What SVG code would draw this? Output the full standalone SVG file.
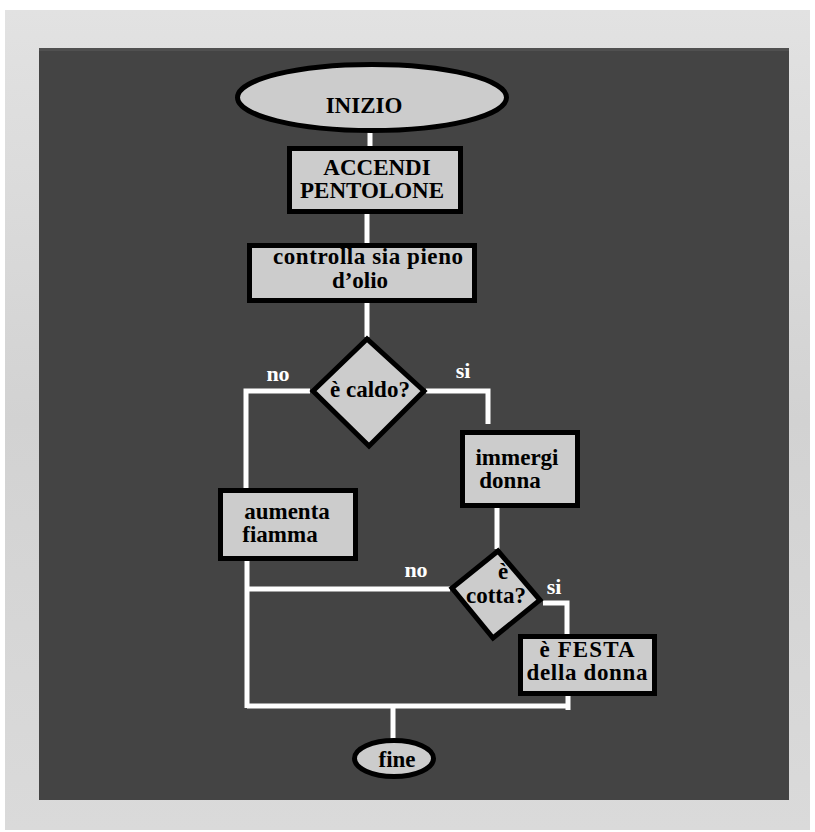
<svg xmlns="http://www.w3.org/2000/svg" width="815" height="832" viewBox="0 0 815 832">
<defs>
<linearGradient id="frame" x1="0" y1="0" x2="0" y2="1">
<stop offset="0" stop-color="#e2e2e2"/>
<stop offset="0.5" stop-color="#d2d2d2"/>
<stop offset="1" stop-color="#dadada"/>
</linearGradient>
</defs>
<style>
.node{fill:#cccccc;stroke:#000;stroke-width:5}
.t{font-family:"Liberation Serif","Times New Roman",serif;font-weight:bold;font-size:23px;fill:#000;text-anchor:middle}
.lbl{font-family:"Liberation Serif","Times New Roman",serif;font-weight:bold;font-size:22px;fill:#fff;text-anchor:middle}
.c{fill:none;stroke:#fff;stroke-width:5}
</style>
<rect width="815" height="832" fill="#fff"/>
<rect x="5" y="10" width="805" height="820" fill="url(#frame)"/>
<rect x="39" y="48" width="750" height="752" fill="#444444"/>
<rect x="39" y="48" width="750" height="3" fill="#505050"/>
<g id="connectors">
<line class="c" x1="370" y1="132" x2="370" y2="148"/>
<line class="c" x1="367" y1="214" x2="367" y2="244"/>
<line class="c" x1="367" y1="302" x2="367" y2="337"/>
<polyline class="c" points="310,391 246,391 246,489"/>
<polyline class="c" points="426,391 488,391 488,424"/>
<line class="c" x1="497" y1="507" x2="497" y2="549"/>
<line class="c" x1="247" y1="560" x2="247" y2="708"/>
<line class="c" x1="450" y1="589" x2="247" y2="589"/>
<polyline class="c" points="543,603 567,603 567,636"/>
<line class="c" x1="568" y1="695" x2="568" y2="710"/>
<line class="c" x1="247" y1="706" x2="570" y2="706"/>
<line class="c" x1="393" y1="706" x2="393" y2="740"/>
</g>
<g id="inizio">
<ellipse class="node" cx="372" cy="97.5" rx="134.5" ry="33"/>
<text class="t" x="364" y="113">INIZIO</text>
</g>
<g id="accendi">
<rect class="node" x="289.5" y="148.5" width="171" height="63"/>
<text class="t" x="377" y="175">ACCENDI</text>
<text class="t" x="372" y="198">PENTOLONE</text>
</g>
<g id="controlla">
<rect class="node" x="249.5" y="245.5" width="225" height="55"/>
<text class="t" x="368" y="264" textLength="190" lengthAdjust="spacing">controlla sia pieno</text>
<text class="t" x="360" y="288">d’olio</text>
</g>
<g id="caldo">
<polygon class="node" points="367,339 313,391 369,446 424,391"/>
<text class="t" x="370" y="397">è caldo?</text>
</g>
<text class="lbl" x="278" y="381">no</text>
<text class="lbl" x="463" y="378">si</text>
<g id="immergi">
<rect class="node" x="462.5" y="432.5" width="115" height="73"/>
<text class="t" x="517" y="465">immergi</text>
<text class="t" x="510" y="488">donna</text>
</g>
<g id="aumenta">
<rect class="node" x="220.5" y="490.5" width="135" height="68"/>
<text class="t" x="287" y="519">aumenta</text>
<text class="t" x="280" y="542">fiamma</text>
</g>
<g id="cotta">
<polygon class="node" points="498,551 540,600 493,638 452,588"/>
<text class="t" x="503" y="579">è</text>
<text class="t" x="496" y="603">cotta?</text>
</g>
<text class="lbl" x="416" y="577">no</text>
<text class="lbl" x="554" y="594">si</text>
<g id="festa">
<rect class="node" x="520.5" y="636.5" width="134" height="57"/>
<text class="t" x="587" y="657" textLength="95" lengthAdjust="spacing">è FESTA</text>
<text class="t" x="587" y="680" textLength="121" lengthAdjust="spacing">della donna</text>
</g>
<g id="fine">
<ellipse class="node" cx="394" cy="758.5" rx="39.5" ry="18"/>
<text class="t" x="397" y="767">fine</text>
</g>
</svg>
